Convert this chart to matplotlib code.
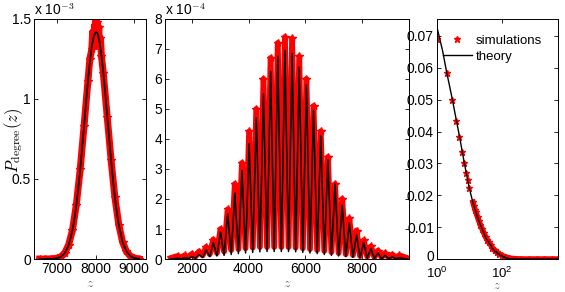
import numpy as np
import matplotlib
matplotlib.use("Agg")
import matplotlib.pyplot as plt
import matplotlib.transforms as mtransforms
from matplotlib.lines import Line2D

plt.rcParams['font.family'] = ['Liberation Sans', 'DejaVu Sans']
plt.rcParams['mathtext.fontset'] = 'cm'

# ---- left panel (values in units of 1e-3) ----
z_left = [6550, 6700, 6850, 7000, 7100, 7200, 7300, 7400, 7450, 7500, 7550, 7600,
          7650, 7700, 7750, 7800, 7850, 7900, 7950, 8000, 8050, 8100, 8150, 8200,
          8250, 8300, 8350, 8400, 8450, 8500, 8550, 8600, 8700, 8800, 8900, 9000, 9130]
theory_left = [0.0, 0.0001, 0.0008, 0.005, 0.014, 0.037, 0.086, 0.18, 0.25, 0.335,
               0.44, 0.56, 0.69, 0.83, 0.975, 1.11, 1.23, 1.33, 1.39, 1.42, 1.41,
               1.36, 1.275, 1.165, 1.035, 0.895, 0.755, 0.62, 0.495, 0.385, 0.29,
               0.215, 0.105, 0.047, 0.018, 0.006, 0.001]
z_left_sim = [6550, 6700, 6850, 7000, 7100, 7200, 7300, 7400, 7500, 7600, 7700, 7800,
              7850, 7900, 7925, 7950, 7975, 8000, 8010, 8025, 8040, 8060, 8080, 8100,
              8125, 8150, 8200, 8300, 8400, 8500, 8600, 8700, 8800, 8900, 9000, 9130]
sim_left = [0.0, 0.0, 0.001, 0.005, 0.014, 0.038, 0.088, 0.18, 0.34, 0.56, 0.83, 1.11,
            1.25, 1.31, 1.42, 1.35, 1.46, 1.38, 1.50, 1.33, 1.48, 1.36, 1.45, 1.34,
            1.38, 1.27, 1.16, 0.89, 0.62, 0.385, 0.215, 0.105, 0.047, 0.018, 0.006, 0.0]

# ---- middle panel (values in units of 1e-4) ----
z_mid_peak = [1494, 1746, 1999, 2251, 2504, 2756, 3009, 3261, 3514, 3766, 4019, 4271,
              4524, 4776, 5029, 5281, 5534, 5786, 6039, 6291, 6544, 6796, 7049, 7301,
              7554, 7806, 8059, 8311, 8564, 8816, 9069, 9321]
theory_mid_peak = [0.02, 0.04, 0.08, 0.15, 0.3, 0.55, 0.9, 1.5, 2.2, 2.95, 3.85, 4.7,
                   5.5, 6.25, 6.75, 6.95, 6.85, 6.4, 5.8, 4.95, 4.1, 3.3, 2.5, 1.8,
                   1.2, 0.8, 0.55, 0.35, 0.2, 0.12, 0.07, 0.04]
sim_mid_peak = [0.1, 0.12, 0.17, 0.25, 0.4, 0.65, 1.0, 1.65, 2.5, 3.2, 4.25, 5.0,
                6.0, 6.7, 7.2, 7.4, 7.35, 6.75, 6.0, 5.1, 4.25, 3.4, 2.5, 2.0,
                1.35, 0.95, 0.62, 0.42, 0.28, 0.2, 0.15, 0.12]
z_mid_trough = [1250, 1620, 1872, 2125, 2378, 2630, 2882, 3135, 3388, 3640, 3892, 4145,
                4398, 4650, 4902, 5155, 5408, 5660, 5912, 6165, 6418, 6670, 6922, 7175,
                7428, 7680, 7932, 8185, 8438, 8690, 8942, 9195, 9600]
theory_mid_trough = [0.0, 0.01, 0.015, 0.03, 0.05, 0.08, 0.1, 0.12, 0.15, 0.18, 0.2,
                     0.22, 0.24, 0.25, 0.25, 0.25, 0.25, 0.24, 0.22, 0.2, 0.18, 0.15,
                     0.12, 0.1, 0.08, 0.06, 0.04, 0.03, 0.02, 0.015, 0.01, 0.01, 0.0]
sim_mid_trough = [0.03, 0.05, 0.06, 0.08, 0.12, 0.16, 0.2, 0.25, 0.3, 0.33, 0.36, 0.38,
                  0.4, 0.4, 0.4, 0.4, 0.4, 0.38, 0.36, 0.33, 0.3, 0.27, 0.23, 0.2,
                  0.16, 0.13, 0.1, 0.08, 0.06, 0.05, 0.04, 0.04, 0.03]

# ---- right panel ----
z_right = [1, 1.5, 2, 3, 4, 5, 6, 7, 8, 9, 10, 12, 14, 16, 18, 20, 23, 26, 30, 34, 38,
           42, 46, 51, 56, 62, 68, 75, 82, 90, 100, 110, 120, 135, 150, 170, 200, 300,
           500, 1000, 2000, 5000]
theory_right = [0.0730, 0.0655, 0.0588, 0.0502, 0.0435, 0.0385, 0.0340, 0.0302, 0.0272,
                0.0246, 0.0223, 0.0190, 0.0165, 0.0148, 0.0130, 0.0118, 0.0103, 0.0090,
                0.0074, 0.0062, 0.0056, 0.0047, 0.0044, 0.0033, 0.0030, 0.0022, 0.0024,
                0.0015, 0.0017, 0.0010, 0.0011, 0.0005, 0.0007, 0.0002, 0.0003, 0.0,
                0.0001, 0.0, 0.0, 0.0, 0.0, 0.0]
z_right_sim = [1, 2, 3, 4, 5, 6, 7, 8, 9, 10, 11, 12, 13, 14, 15, 16, 18, 20, 22, 25,
               28, 32, 36, 40, 45, 50, 60, 70, 80, 100, 130, 170, 250, 400, 700, 1200,
               2000, 3500, 5200]
sim_right = [0.0690, 0.0585, 0.0500, 0.0432, 0.0382, 0.0336, 0.0302, 0.0270, 0.0247,
             0.0222, 0.0205, 0.0190, 0.0178, 0.0166, 0.0155, 0.0147, 0.0131, 0.0118,
             0.0107, 0.0094, 0.0082, 0.0068, 0.0060, 0.0052, 0.0045, 0.0036, 0.0027,
             0.0022, 0.0017, 0.0011, 0.0006, 0.0003, 0.0001, 0.0, 0.0, 0.0, 0.0, 0.0, 0.0]

red = '#ff0000'

def zigzag(zp, vp, zt, vt):
    # interleave troughs and peaks (trough, peak, trough, ...)
    zz, vv = [], []
    for i in range(len(zp)):
        zz += [zt[i], zp[i]]
        vv += [vt[i], vp[i]]
    zz.append(zt[-1]); vv.append(vt[-1])
    return zz, vv


def style(ax):
    ax.tick_params(direction='in', length=3, width=0.6, top=True, right=True,
                   labelsize=10, pad=2)
    for s in ax.spines.values():
        s.set_linewidth(0.7)


fig = plt.figure(figsize=(5.65, 2.92), dpi=100)
ax1 = fig.add_axes([0.060, 0.113, 0.198, 0.822])
ax2 = fig.add_axes([0.292, 0.113, 0.432, 0.822])
ax3 = fig.add_axes([0.773, 0.113, 0.214, 0.822])

# left
ax1.plot(z_left_sim, sim_left, color=red, lw=5, marker='*', ms=6, mec=red)
ax1.plot(z_left, theory_left, color='k', lw=1.2)
ax1.set_xlim(6400, 9300)
ax1.set_ylim(0, 1.5)
ax1.set_xticks([7000, 8000, 9000])
ax1.set_yticks([0, 0.5, 1, 1.5])
ax1.set_yticklabels(['0', '0.5', '1', '1.5'])
ax1.text(0.0, 1.005, r'x 10$^{-3}$', transform=ax1.transAxes, fontsize=10,
         ha='left', va='bottom')
fig.text(0.024, 0.52, r'$P_{\rm degree}(z)$', fontsize=12, rotation=90,
         ha='center', va='center')
ax1.set_xlabel(r'$z$', fontsize=10, color='0.4', labelpad=0)
style(ax1)

# middle
zs, vs = zigzag(z_mid_peak, sim_mid_peak, z_mid_trough, sim_mid_trough)
zt, vt = zigzag(z_mid_peak, theory_mid_peak, z_mid_trough, theory_mid_trough)
ax2.plot(zs, vs, color=red, lw=4.2, marker='*', ms=6, mec=red,
         markevery=slice(1, None, 2))
ax2.plot(zt, vt, color='k', lw=1.1)
ax2.set_xlim(1050, 9660)
ax2.set_ylim(0, 8)
ax2.set_xticks([2000, 4000, 6000, 8000])
ax2.set_yticks(range(9))
ax2.text(0.0, 1.005, r'x 10$^{-4}$', transform=ax2.transAxes, fontsize=10,
         ha='left', va='bottom')
ax2.set_xlabel(r'$z$', fontsize=10, color='0.4', labelpad=0)
style(ax2)

# right
ax3.plot(z_right_sim[:10], sim_right[:10], ls='none', marker='*', ms=5,
         color=red, mec=red)
ax3.plot(z_right_sim[12:], sim_right[12:], color=red, lw=4, marker='*', ms=5, mec=red)
ax3.plot(z_right, theory_right, color='k', lw=1.0)
ax3.set_xscale('log')
ax3.set_xlim(1, 5200)
ax3.set_ylim(0, 0.0753)
ax3.set_xticks([1, 100])
ax3.xaxis.set_minor_locator(matplotlib.ticker.NullLocator())
ax3.set_yticks([0, 0.01, 0.02, 0.03, 0.04, 0.05, 0.06, 0.07])
ax3.set_yticklabels(['0', '0.01', '0.02', '0.03', '0.04', '0.05', '0.06', '0.07'])
style(ax3)
ax3.tick_params(axis='x', pad=5, labelsize=9.5)
ax3.set_xlabel(r'$z$', fontsize=9, color='0.4', labelpad=-1)
# nudge the "0" y label up a little so it clears the 10^0 label
lab0 = ax3.get_yticklabels()[0]
lab0.set_transform(lab0.get_transform() +
                   mtransforms.ScaledTranslation(0, 2.5 / 72, fig.dpi_scale_trans))

handles = [Line2D([], [], ls='none', marker='*', color=red, ms=5),
           Line2D([], [], color='k', lw=1.0)]
ax3.legend(handles, ['simulations', 'theory'], loc='upper right', frameon=False,
           fontsize=9.5, handlelength=2.2, handletextpad=0.3, labelspacing=0.25,
           borderaxespad=1.0, borderpad=0.2)

fig.savefig('out.png', dpi=100)
